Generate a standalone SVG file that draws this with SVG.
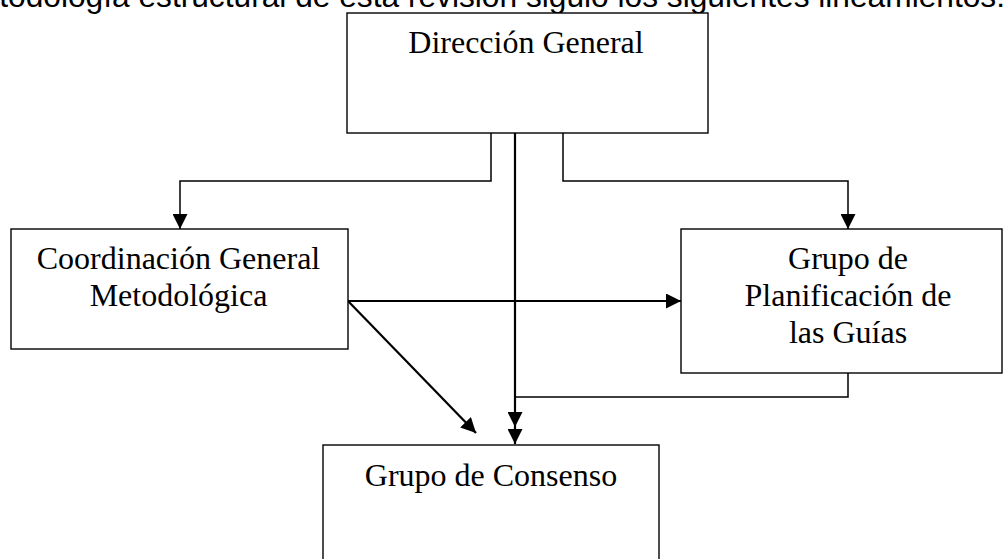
<svg xmlns="http://www.w3.org/2000/svg" width="1007" height="559" viewBox="0 0 1007 559">
<style>
.box{fill:#fff;stroke:#000;stroke-width:1.4}
.lbl{font-family:"Liberation Serif","Times New Roman",serif;font-size:32px;fill:#000;text-anchor:middle}
.head{font-family:"Liberation Sans",Arial,sans-serif;font-size:31.7px;fill:#000}
.c{fill:none;stroke:#000}
.thin{stroke-width:1.5}
.thick{stroke-width:2.2}
</style>
<defs>
<marker id="arr" viewBox="0 0 15 15" refX="15" refY="7.5" markerWidth="15" markerHeight="15" markerUnits="userSpaceOnUse" orient="auto">
<path d="M0,0 L15,7.5 L0,15 Z" fill="#000"/>
</marker>
</defs>
<rect width="1007" height="559" fill="#fff"/>
<text class="head" x="1005" y="6.5" text-anchor="end">todología estructural de esta revisión siguió los siguientes lineamientos:</text>
<g id="connectors">
<path class="c thin" d="M491,133 V181 H180 V229" marker-end="url(#arr)"/>
<path class="c thin" d="M563,133 V181 H848 V229" marker-end="url(#arr)"/>
<path class="c thick" d="M515,133 V444" marker-end="url(#arr)"/>
<path class="c thick" d="M348,301 H681" marker-end="url(#arr)"/>
<path class="c thick" d="M348,301 L476,433" marker-end="url(#arr)"/>
<path class="c thin" d="M848,373 V397 H515 V427" marker-end="url(#arr)"/>
</g>
<g id="direccion">
<rect class="box" x="347" y="13" width="361" height="120"/>
<text class="lbl" x="526" y="53">Dirección General</text>
</g>
<g id="coordinacion">
<rect class="box" x="11" y="229" width="337" height="120"/>
<text class="lbl" x="178.5" y="269">Coordinación General</text>
<text class="lbl" x="178.5" y="306">Metodológica</text>
</g>
<g id="planificacion">
<rect class="box" x="681" y="229" width="321" height="144"/>
<text class="lbl" x="848" y="269">Grupo de</text>
<text class="lbl" x="848" y="306">Planificación de</text>
<text class="lbl" x="848" y="343">las Guías</text>
</g>
<g id="consenso">
<rect class="box" x="323" y="445" width="336" height="130"/>
<text class="lbl" x="491" y="486">Grupo de Consenso</text>
</g>
</svg>
